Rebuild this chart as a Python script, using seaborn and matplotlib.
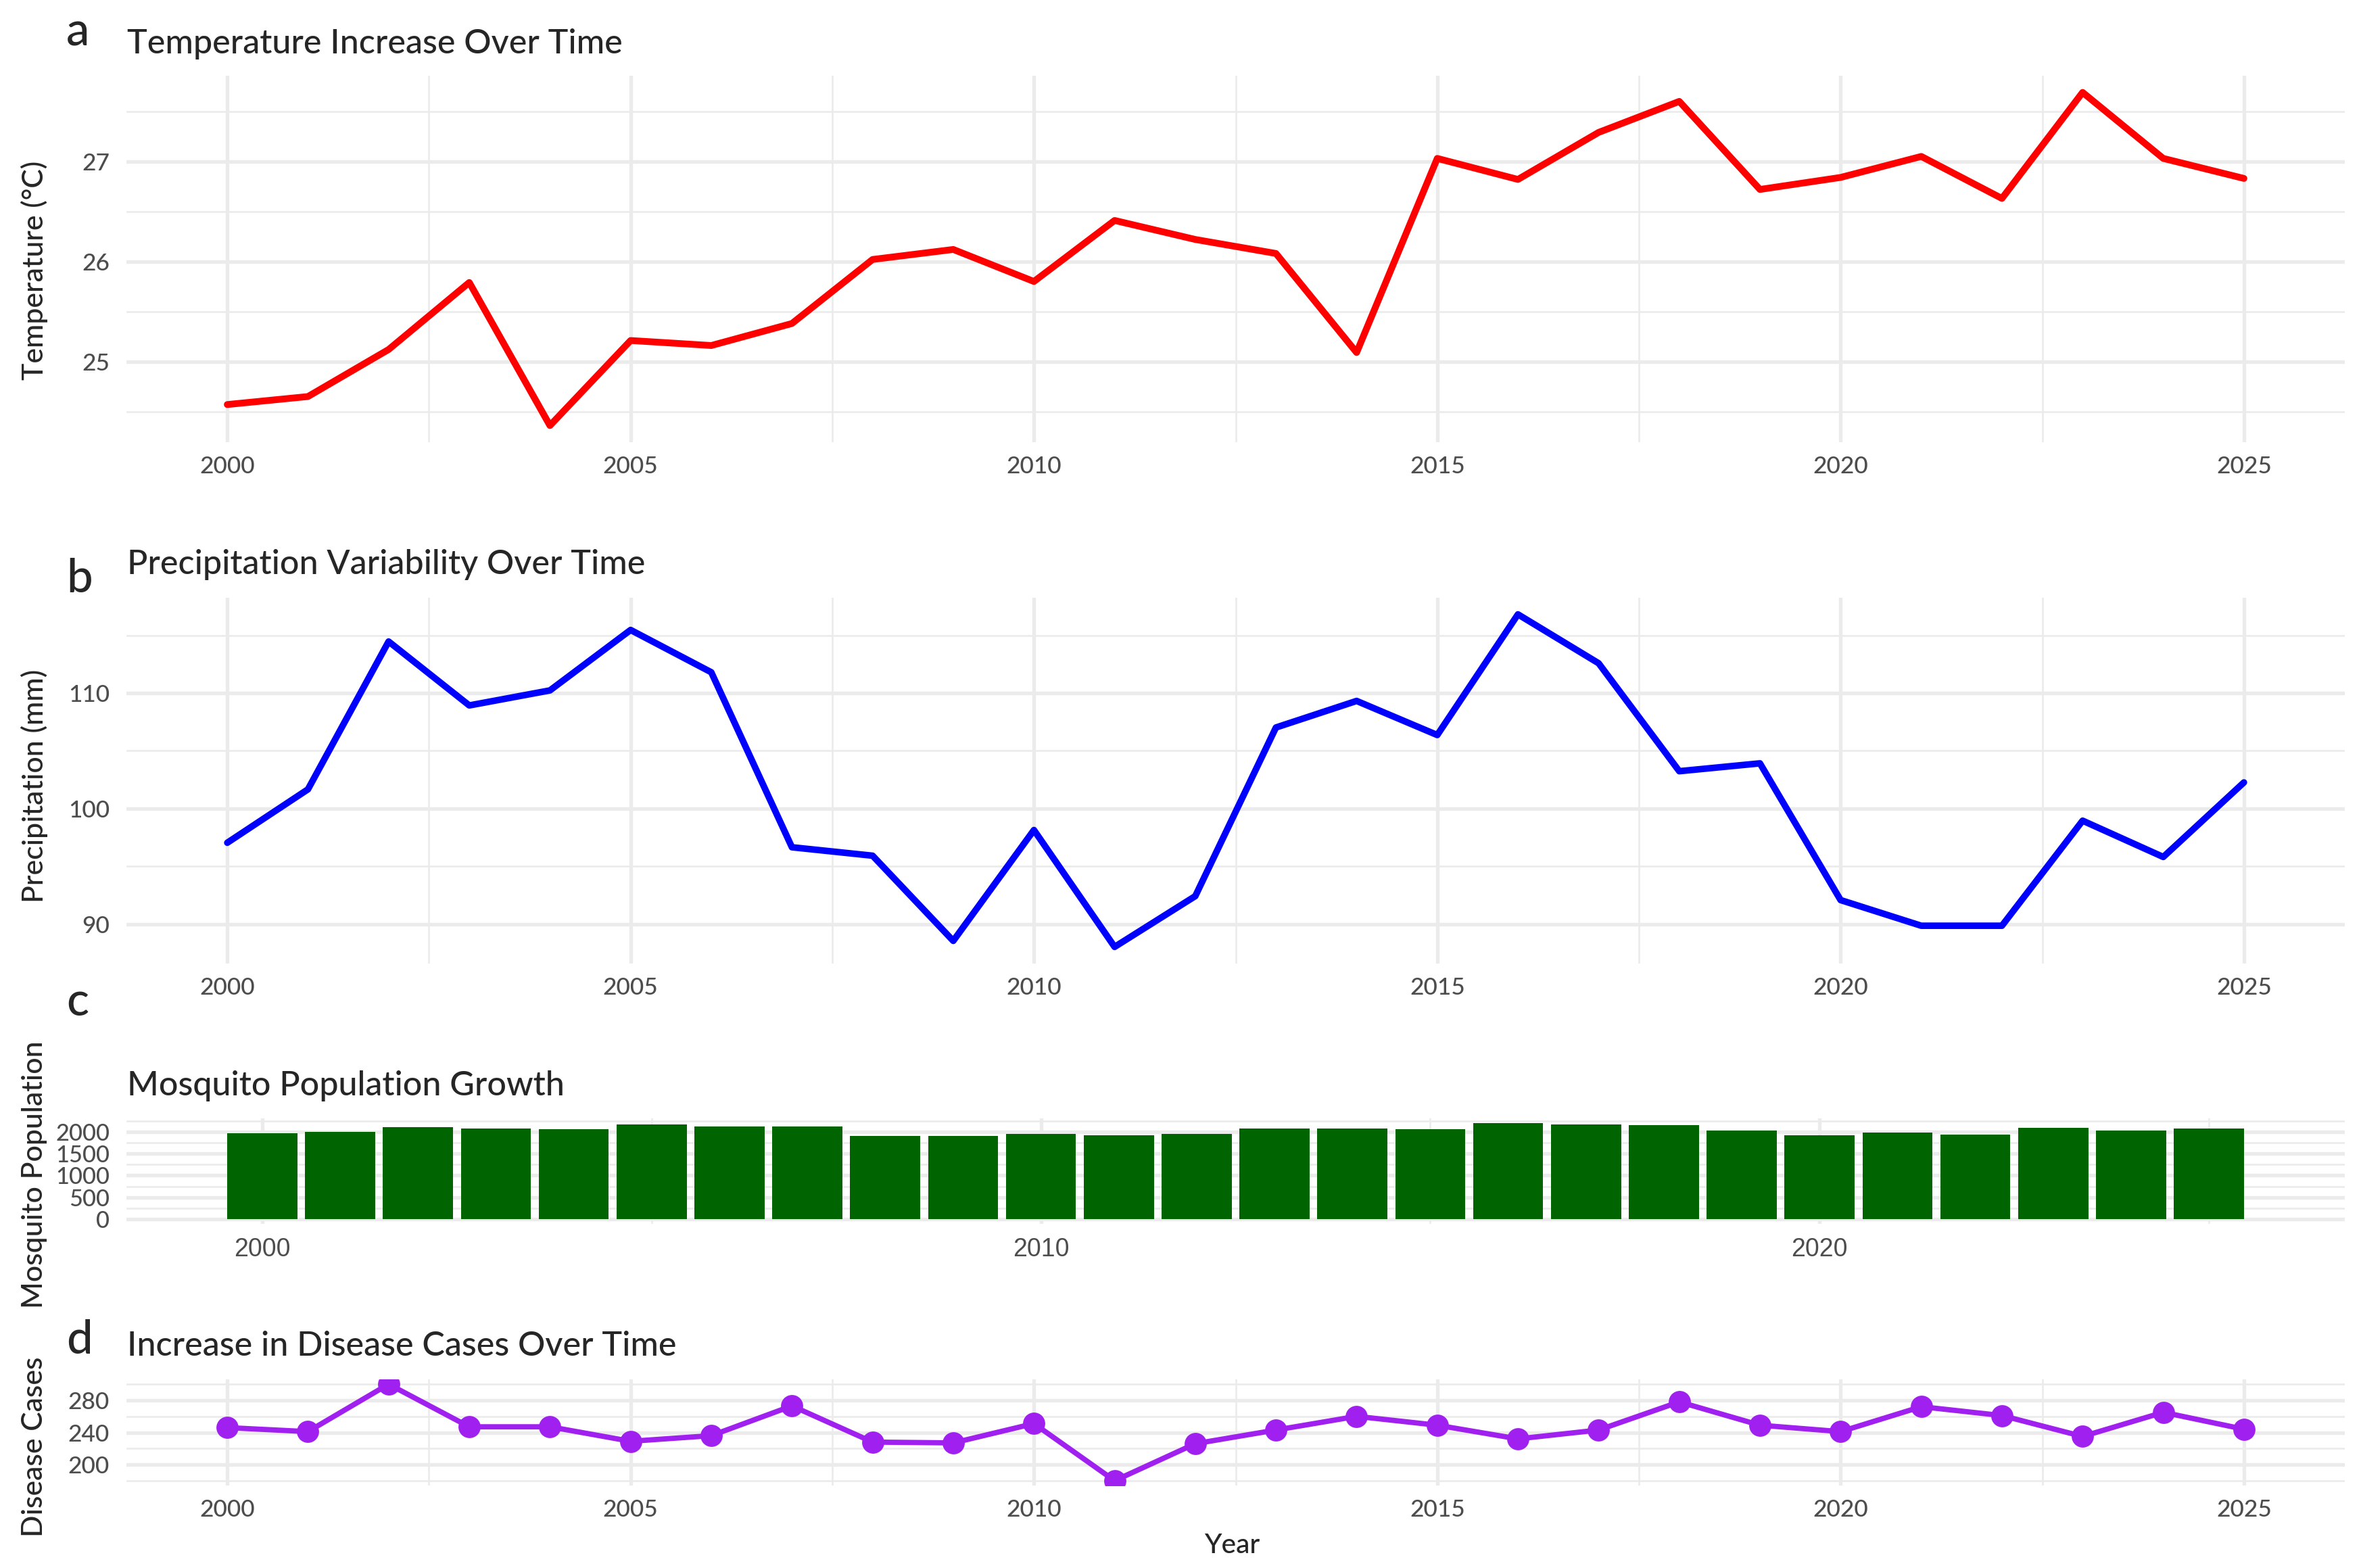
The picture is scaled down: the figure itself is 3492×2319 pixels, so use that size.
import numpy as np
import pandas as pd
import matplotlib
matplotlib.use('Agg')
import matplotlib.pyplot as plt
import seaborn as sns
from matplotlib.ticker import MultipleLocator, FixedLocator

years = list(range(2000, 2026))
temperature = [24.57, 24.65, 25.12, 25.79, 24.36, 25.21, 25.16, 25.38, 26.02, 26.12, 25.80, 26.41, 26.22,
               26.08, 25.09, 27.03, 26.82, 27.29, 27.60, 26.72, 26.84, 27.05, 26.63, 27.69, 27.03, 26.83]
precipitation = [97.05, 101.67, 114.46, 108.93, 110.23, 115.46, 111.80, 96.66, 95.93, 88.56, 98.15, 88.04, 92.43,
                 107.02, 109.32, 106.37, 116.81, 112.58, 103.24, 103.92, 92.09, 89.87, 89.87, 98.96, 95.82, 102.27]
mosquito = [1969, 2000, 2108, 2077, 2062, 2170, 2124, 2124, 1907, 1907, 1954, 1923, 1954,
            2077, 2077, 2062, 2201, 2170, 2155, 2031, 1923, 1985, 1938, 2093, 2031, 2077]
cases = [246, 241, 300, 247, 247, 229, 236, 273, 228, 227, 251, 180, 226,
         243, 260, 249, 232, 243, 278, 249, 241, 272, 261, 235, 265, 244]

titles = ['Temperature Increase Over Time', 'Precipitation Variability Over Time',
          'Mosquito Population Growth', 'Increase in Disease Cases Over Time']
ylabels = ['Temperature (°C)', 'Precipitation (mm)', 'Mosquito Population', 'Disease Cases']
panel_tags = ['a', 'b', 'c', 'd']

df = pd.DataFrame({'Year': years, 'Temperature': temperature, 'Precipitation': precipitation,
                   'Mosquito': mosquito, 'Cases': cases})

sns.set_style('white')
plt.rcParams['font.family'] = ['Lato', 'DejaVu Sans']
plt.rcParams['font.weight'] = 'medium'

W, H = 3492, 2319
fig = plt.figure(figsize=(W / 225, H / 225), dpi=225)

def px_axes(top, bottom, left=187, right=3468):
    return fig.add_axes([left / W, 1 - bottom / H, (right - left) / W, (bottom - top) / H])

def expand(lo, hi, f=0.05):
    r = hi - lo
    return lo - f * r, hi + f * r

GRID = '#EBEBEB'
TICK = '#4D4D4D'

def style(ax, ymaj, ymin, xmaj=5, xmin=2.5):
    for s in ax.spines.values():
        s.set_visible(False)
    ax.xaxis.set_major_locator(MultipleLocator(xmaj))
    ax.xaxis.set_minor_locator(MultipleLocator(xmin))
    ax.yaxis.set_major_locator(MultipleLocator(ymaj))
    ax.yaxis.set_minor_locator(MultipleLocator(ymin))
    ax.grid(which='major', color=GRID, lw=1.7)
    ax.grid(which='minor', color=GRID, lw=0.85)
    ax.set_axisbelow(True)
    ax.tick_params(which='both', length=0)
    ax.tick_params(axis='x', pad=6.5, labelsize=11.3, labelcolor=TICK)
    ax.tick_params(axis='y', pad=8, labelsize=11.3, labelcolor=TICK)
    ax.set_xlabel('')
    ax.set_ylabel('')

# a: temperature
ax1 = px_axes(112, 654)
sns.lineplot(ax=ax1, data=df, x='Year', y='Temperature', color='#FF0000', lw=3.2)
ax1.set_xlim(expand(2000, 2025))
ax1.set_ylim(expand(min(temperature), max(temperature)))
style(ax1, 1, 0.5)

# b: precipitation
ax2 = px_axes(884, 1425)
sns.lineplot(ax=ax2, data=df, x='Year', y='Precipitation', color='#0000FF', lw=3.1)
ax2.set_xlim(expand(2000, 2025))
ax2.set_ylim(expand(min(precipitation), max(precipitation)))
style(ax2, 10, 5)

# c: mosquito bars
ax3 = px_axes(1654, 1810)
sns.barplot(ax=ax3, data=df, x='Year', y='Mosquito', color='#006400', saturation=1,
            width=0.9, native_scale=True, edgecolor='none', linewidth=0)
ax3.set_xlim(expand(1999.55, 2025.45))
ax3.set_ylim(expand(0, max(mosquito)))
style(ax3, 500, 250, xmaj=10, xmin=5)
ax3.xaxis.set_major_locator(FixedLocator([2000, 2010, 2020]))
ax3.xaxis.set_minor_locator(FixedLocator([2005, 2015, 2025]))
ax3.tick_params(axis='x', labelsize=12)
for t in ax3.get_xticklabels():
    t.set_family(['Liberation Sans', 'DejaVu Sans'])
    t.set_weight('normal')
ax3.tick_params(axis='y', labelsize=11)

# d: disease cases
ax4 = px_axes(2040, 2197)
sns.lineplot(ax=ax4, data=df, x='Year', y='Cases', color='#A020F0', lw=2.5,
             marker='o', markersize=10.5, markeredgewidth=0)
ax4.set_xlim(expand(2000, 2025))
ax4.set_ylim(expand(min(cases), max(cases)))
style(ax4, 40, 20)

# titles, panel tags, axis labels
title_base = [79, 849, 1620, 2005]
tag_base = [68, 876, 1502, 2002]
ylab_center = [400, 1162, 1737, 2140]
for i in range(4):
    fig.text(188 / W, 1 - title_base[i] / H, titles[i], fontsize=16.1, va='baseline', ha='left')
    fig.text(98 / W, 1 - tag_base[i] / H, panel_tags[i], fontsize=22, va='baseline', ha='left')
    fig.text(51 / W, 1 - ylab_center[i] / H, ylabels[i], fontsize=13.7, rotation=90,
             va='center', ha='center')
fig.text(1822 / W, 1 - 2297 / H, 'Year', fontsize=13, va='baseline', ha='center')

fig.savefig('out.png', dpi=225, facecolor='white')
